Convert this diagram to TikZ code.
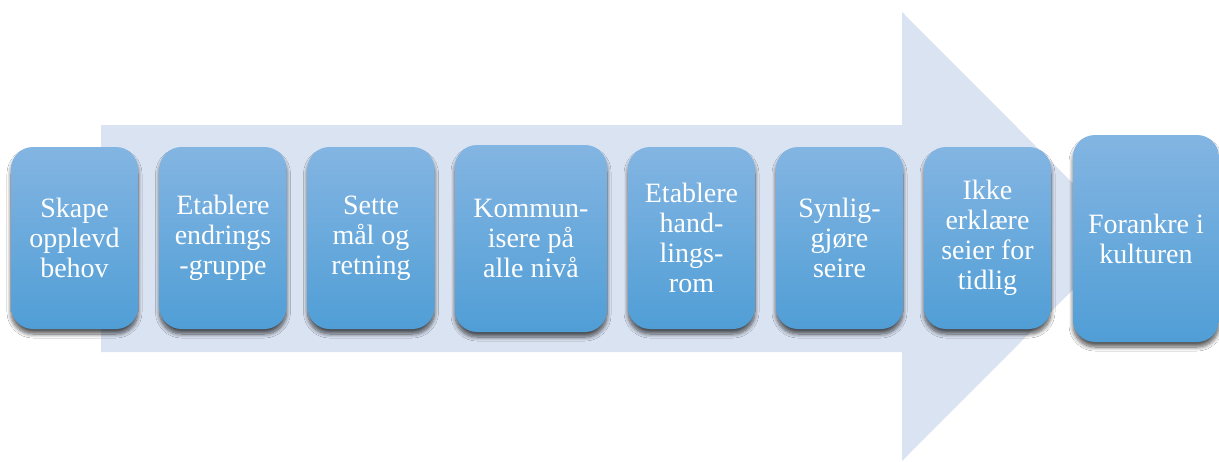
\documentclass[tikz,border=0pt]{standalone}
\usepackage{fontspec}
\setmainfont{Liberation Serif}
\usetikzlibrary{shadows.blur}
\definecolor{arrowbg}{RGB}{218,227,242}
\definecolor{boxtop}{RGB}{131,181,226}
\definecolor{boxbot}{RGB}{80,158,214}
\tikzset{
  stepbox/.style={rounded corners=22pt, top color=boxtop, bottom color=boxbot,
    draw=none, text=white, align=center, inner sep=0pt,
    font=\fontsize{28}{30}\selectfont,
    blur shadow={shadow xshift=0pt, shadow yshift=-5pt, shadow blur radius=4pt,
      shadow opacity=65, shadow blur steps=8}},
  smallbox/.style={stepbox, minimum width=127pt, minimum height=182pt},
}
\begin{document}
\begin{tikzpicture}[x=1pt, y=-1pt]
  \useasboundingbox (0,0) rectangle (1219,461);
  \fill[white] (0,0) rectangle (1219,461);
  % broad process arrow behind the steps
  \fill[arrowbg] (101,125) -- (902,125) -- (902,12) -- (1126,236.5)
    -- (902,461) -- (902,352) -- (101,352) -- cycle;
  % the eight steps
  \node[smallbox] (s1) at (74.5,238) {Skape\\opplevd\\behov};
  \node[smallbox] (s2) at (223,238) {Etablere\\endrings\\-gruppe};
  \node[smallbox] (s3) at (371,238) {Sette\\mål og\\retning};
  \node[stepbox, minimum width=152pt, minimum height=187pt] (s4) at (531,238.5)
    {Kommun-\\isere på\\alle nivå};
  \node[smallbox] (s5) at (691.5,238) {Etablere\\hand-\\lings-\\rom};
  \node[smallbox] (s6) at (839.5,238) {Synlig-\\gjøre\\seire};
  \node[smallbox] (s7) at (987.5,238) {Ikke\\erklære\\seier for\\tidlig};
  \node[stepbox, minimum width=146pt, minimum height=207pt] (s8) at (1146,238.5)
    {Forankre i\\kulturen};
\end{tikzpicture}
\end{document}
